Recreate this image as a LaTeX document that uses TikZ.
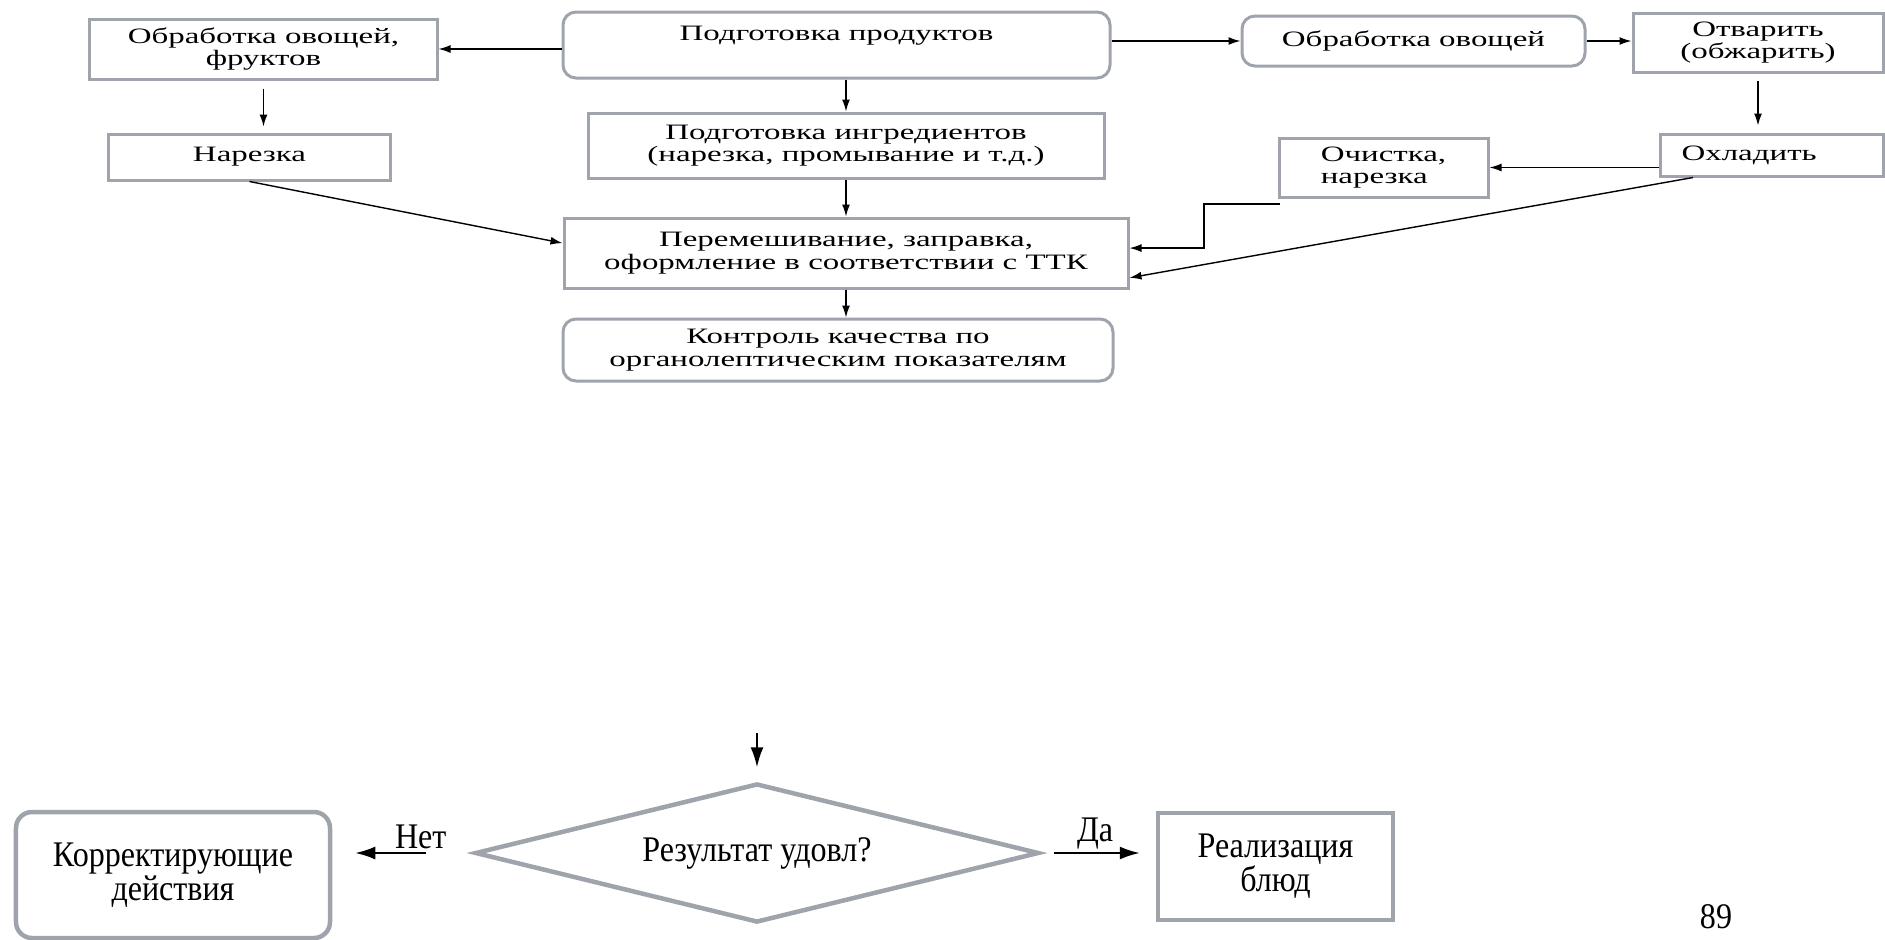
\documentclass[tikz,border=0pt]{standalone}
\usepackage{fontspec}
\setmainfont{Liberation Serif}
\newfontfamily\topfont[FakeStretch=1.5]{Liberation Serif}
\newfontfamily\lowfont[FakeStretch=0.89]{Liberation Serif}
\usepackage{xcolor}
\usetikzlibrary{positioning, shapes.geometric, arrows.meta}
\definecolor{frame-gray}{RGB}{158,163,172}

\begin{document}
\begin{tikzpicture}
[
x=0.2mm, y=-0.2mm,
box-a/.style={rectangle, draw=frame-gray, line width=0.6mm, align=center, inner sep=0.4mm, font={\topfont\fontsize{12.5pt}{12.8pt}\selectfont}},
box-r/.style={box-a, rounded corners=2.6mm},
box-b/.style={rectangle, draw=frame-gray, line width=0.9mm, align=center, font={\lowfont\fontsize{20.5pt}{19.4pt}\selectfont}},
box-br/.style={box-b, rounded corners=3.2mm},
dec-a/.style={diamond, draw=frame-gray, line width=0.9mm, aspect=4, inner sep=0pt, font={\lowfont\fontsize{20.5pt}{19.4pt}\selectfont}},
text-b/.style={inner sep=0.6mm, font={\lowfont\fontsize{20.5pt}{19.4pt}\selectfont}},
line-a/.style={draw=black, line width=0.28mm, -{Latex[length=2.4mm, width=1.6mm]}},
line-b/.style={draw=black, line width=0.4mm, -{Latex[length=4mm, width=2.6mm]}}
]
\useasboundingbox (0,0) rectangle (1885,939);

% top part
\node (prep-prod)  [box-r, minimum width=109.4mm, minimum height=13.2mm]  at (836.5,45)   {Подготовка продуктов\\ \mbox{}};
\node (proc-vf)    [box-a, minimum width=69.4mm,  minimum height=12mm]    at (263.5,49)   {Обработка овощей,\\фруктов};
\node (proc-v)     [box-r, minimum width=68.6mm,  minimum height=10mm]    at (1413.5,41)  {Обработка овощей};
\node (boil)       [box-a, minimum width=50mm,    minimum height=11.8mm]  at (1758,42.5)  {Отварить\\(обжарить)};
\node (cut)        [box-a, minimum width=56.2mm,  minimum height=9.2mm,  below = 10.4mm of proc-vf, xshift=-2.8mm] {Нарезка};
\node (ingr)       [box-a, minimum width=103.2mm, minimum height=13mm]    at (846,145.5)  {Подготовка ингредиентов\\(нарезка, промывание и т.д.)};
\node (cool)       [box-a, minimum width=44.6mm,  minimum height=8.4mm,  text width=36mm, align=left, below = 11.8mm of boil, xshift=2.7mm] {Охладить};
\node (peel)       [box-a, minimum width=41.8mm,  minimum height=11.8mm, align=left] at (1383.5,167.5) {Очистка,\\нарезка};
\node (mix)        [box-a, minimum width=112.8mm, minimum height=14mm,   below = 7.4mm of ingr] {Перемешивание, заправка,\\оформление в соответствии с ТТК};
\node (ctrl)       [box-r, minimum width=110mm,   minimum height=12.4mm, below = 5.6mm of mix, xshift=-1.6mm] {Контроль качества по\\органолептическим показателям};

\coordinate (peel-out)  at (1280,204);
\coordinate (peel-bend) at (1204,204);

\draw [line-a] (prep-prod.west |- proc-vf.east) -- (proc-vf.east);
\draw [line-a] (prep-prod.east |- proc-v.west) -- (proc-v.west);
\draw [line-a] (proc-v.east) -- (proc-v.east -| boil.west);
\draw [line-a, shorten <=1.6mm, shorten >=1.2mm] (proc-vf.south) -- (proc-vf.south |- cut.north);
\draw [line-a] (prep-prod.south -| ingr.north) -- (ingr.north);
\draw [line-a] (ingr.south) -- (mix.north);
\draw [line-a] (mix.south) -- (mix.south |- ctrl.north);
\draw [line-a, shorten <=1.4mm, shorten >=1.4mm] (boil.south) -- (boil.south |- cool.north);
\draw [line-a] (cut.south) -- (mix.178);
\draw [line-a] (cool.west |- peel.east) -- (peel.east);
\draw [line-a] (peel-out) -- (peel-bend) |- (mix.1);
\draw [line-a] (cool.196) -- (mix.-5);

% bottom part
\coordinate (dec-in) at (757,733);
\node (dec)        [dec-a, minimum width=112.8mm, minimum height=27.8mm]  at (757,853)    {Результат удовл?};
\node (corr)       [box-br, minimum width=62.8mm, minimum height=25.2mm]  at (173,875)    {Корректирующие\\действия};
\node (real)       [box-b,  minimum width=47mm,   minimum height=21.4mm]  at (1275.5,866.5) {Реализация\\блюд};
\node (page)       [text-b]                                               at (1716,917)   {89};

\draw [line-b, shorten >=2.8mm] (dec-in) -- (dec.north);
\draw [line-b, shorten <=9.4mm, shorten >=4.6mm] (dec.west) -- (dec.west -| corr.east) node (no) [text-b, pos=0.37, above] {Нет};
\draw [line-b, shorten <=2.6mm, shorten >=3.2mm] (dec.east) -- (dec.east -| real.west) node (yes) [text-b, pos=0.47, above] {Да};
\end{tikzpicture}
\end{document}
